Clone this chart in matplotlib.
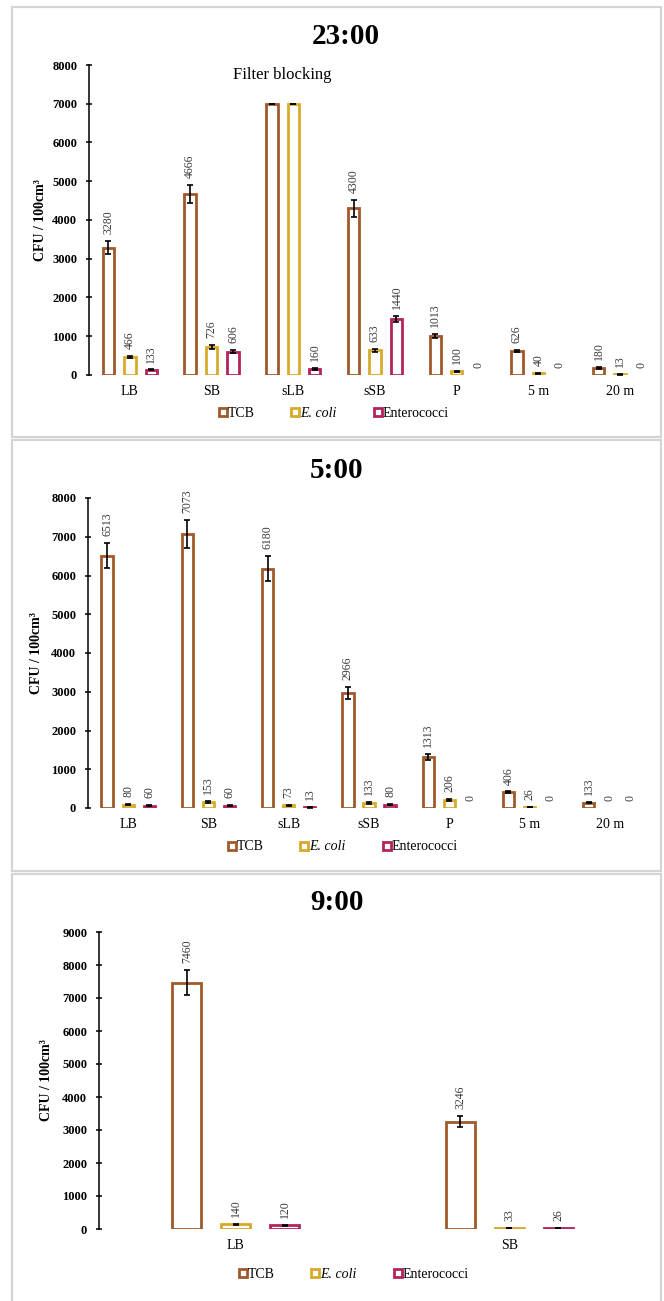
import matplotlib
matplotlib.use("Agg")
import matplotlib.pyplot as plt
import numpy as np
from matplotlib.lines import Line2D
from matplotlib.patches import Rectangle

plt.rcParams['font.family'] = ['Liberation Serif', 'DejaVu Serif']

# ---------------- data ----------------
series = ["TCB", "E. coli", "Enterococci"]
colors = ["#A0582C", "#D8AA2A", "#B3245C"]

cats_2300 = ["LB", "SB", "sLB", "sSB", "P", "5 m", "20 m"]
tcb_2300 = [3280, 4666, 7000, 4300, 1013, 626, 180]
ecoli_2300 = [466, 726, 7000, 633, 100, 40, 13]
ent_2300 = [133, 606, 160, 1440, 0, 0, 0]
tcb_err_2300 = [170, 240, 0, 220, 50, 30, 20]
ecoli_err_2300 = [20, 50, 0, 40, 15, 10, 5]
ent_err_2300 = [10, 30, 20, 80, 0, 0, 0]
blocked_2300 = ["sLB"]  # filter blocking (TCB, E. coli)

cats_0500 = ["LB", "SB", "sLB", "sSB", "P", "5 m", "20 m"]
tcb_0500 = [6513, 7073, 6180, 2966, 1313, 406, 133]
ecoli_0500 = [80, 153, 73, 133, 206, 26, 0]
ent_0500 = [60, 60, 13, 80, 0, 0, 0]
tcb_err_0500 = [320, 370, 315, 160, 80, 20, 15]
ecoli_err_0500 = [15, 25, 15, 20, 25, 5, 0]
ent_err_0500 = [10, 10, 5, 15, 0, 0, 0]

cats_0900 = ["LB", "SB"]
tcb_0900 = [7460, 3246]
ecoli_0900 = [140, 33]
ent_0900 = [120, 26]
tcb_err_0900 = [380, 165]
ecoli_err_0900 = [25, 8]
ent_err_0900 = [15, 6]

W, H = 664, 1301
fig = plt.figure(figsize=(W / 100, H / 100), dpi=100)


def fx(px):
    return px / W


def fy(py):
    return 1 - py / H


# panel borders
for (x0, y0, x1, y1) in [(12, 7, 661, 437), (12, 440, 661, 871), (12, 874, 661, 1310)]:
    fig.patches.append(Rectangle((fx(x0), fy(y1)), fx(x1 - x0), fy(y0) - fy(y1),
                                 transform=fig.transFigure, fill=False,
                                 edgecolor="#d4d4d4", linewidth=1.6))


def panel(title, title_xy, ax_rect, cats, vals, errs, ymax, width, offset,
          ylabel_x, legend_xy, blocked=()):
    left, top, right, bottom = ax_rect
    ax = fig.add_axes([fx(left), fy(bottom), fx(right - left), fy(top) - fy(bottom)])
    x = np.arange(len(cats))
    for i, (v, e, c) in enumerate(zip(vals, errs, colors)):
        xs = x + (i - 1) * offset
        bars = ax.bar(xs, v, width=width, facecolor="white", edgecolor=c,
                      linewidth=2.0, zorder=2)
        for b, vv in zip(bars, v):
            if vv == 0:
                b.set_visible(False)
        v_arr = np.array(v, dtype=float)
        e_arr = np.array(e, dtype=float)
        m = v_arr > 0
        ax.errorbar(xs[m], v_arr[m], yerr=e_arr[m], fmt="none", ecolor="black",
                    elinewidth=1.2, capsize=2.5, capthick=1.2, zorder=3)
        for xi, vv, ee, cat in zip(xs, v, e, cats):
            if cat in blocked and i < 2:
                continue
            ax.annotate(f"{vv}", xy=(xi, vv + ee), xytext=(0, 5),
                        textcoords="offset points", rotation=90,
                        ha="center", va="bottom", fontsize=8.5, color="#3a3a3a")
    ax.set_xlim(-0.5, len(cats) - 0.5)
    ax.set_ylim(0, ymax)
    ax.set_yticks(np.arange(0, ymax + 1, 1000))
    ax.set_xticks(x)
    ax.set_xticklabels(cats, fontsize=10)
    for lab in ax.get_yticklabels():
        lab.set_fontweight("bold")
        lab.set_fontsize(9)
    for s in ["top", "right", "bottom"]:
        ax.spines[s].set_visible(False)
    ax.spines["left"].set_linewidth(1.1)
    ax.tick_params(axis="x", length=0, pad=7)
    ax.tick_params(axis="y", direction="inout", length=5, width=1.1, pad=6)
    ax.set_facecolor("none")

    fig.text(fx(title_xy[0]), fy(title_xy[1]), title, ha="center", va="center",
             fontsize=21, fontweight="bold")
    fig.text(fx(ylabel_x), fy((top + bottom) / 2), "CFU / 100cm³", rotation=90,
             ha="center", va="center", fontsize=10, fontweight="bold")

    handles = [Line2D([], [], marker="s", ls="none", mfc="white", mec=c, mew=2.0,
                      ms=5.5) for c in colors]
    leg = ax.legend(handles, series, loc="center", ncol=3, frameon=False,
                    bbox_to_anchor=(fx(legend_xy[0]), fy(legend_xy[1])),
                    bbox_transform=fig.transFigure, fontsize=10,
                    handlelength=0.5, handletextpad=0.1, columnspacing=2.7,
                    borderpad=0)
    leg.get_texts()[1].set_fontstyle("italic")
    return ax


ax1 = panel("23:00", (346, 36), (89, 65, 661, 375), cats_2300,
            [tcb_2300, ecoli_2300, ent_2300],
            [tcb_err_2300, ecoli_err_2300, ent_err_2300],
            8000, 0.14, 0.263, 40, (334, 413), blocked=blocked_2300)
ax1.text(1.87, 7740, "Filter blocking", ha="center", va="center", fontsize=12)

panel("5:00", (337, 470), (88, 498, 650, 808), cats_0500,
      [tcb_0500, ecoli_0500, ent_0500],
      [tcb_err_0500, ecoli_err_0500, ent_err_0500],
      8000, 0.14, 0.263, 36, (343, 847))

panel("9:00", (337, 902), (99, 932, 646, 1229), cats_0900,
      [tcb_0900, ecoli_0900, ent_0900],
      [tcb_err_0900, ecoli_err_0900, ent_err_0900],
      9000, 0.105, 0.179, 46, (354, 1274))

fig.savefig("out.png", dpi=100, facecolor="white")
